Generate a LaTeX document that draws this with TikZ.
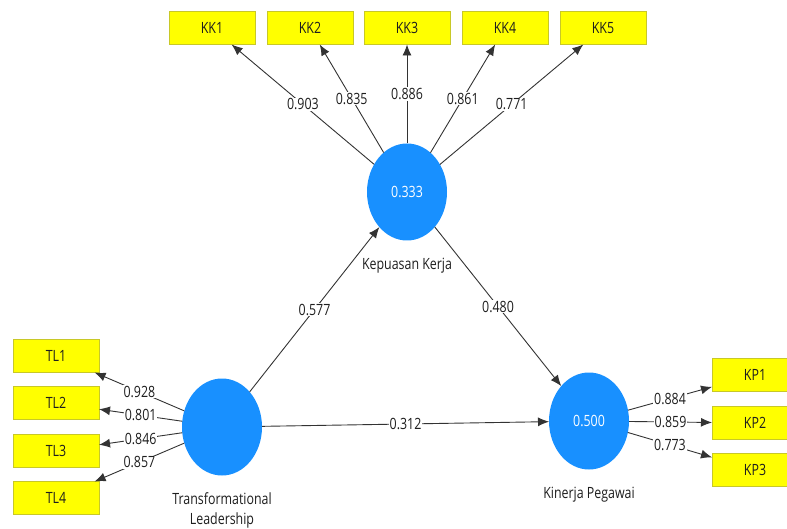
\documentclass[tikz,border=0pt]{standalone}
\usepackage{fontspec}
\setmainfont{Open Sans}[FakeStretch=0.8]
\usetikzlibrary{arrows.meta,positioning,shapes.geometric}
\definecolor{latentBlue}{RGB}{24,144,255}
\definecolor{itemYellow}{RGB}{255,255,0}
\definecolor{itemBorder}{RGB}{200,200,40}
\definecolor{textGrey}{RGB}{30,30,30}
\tikzset{
  latent/.style={ellipse, fill=latentBlue, minimum width=80pt, minimum height=97pt, inner sep=0pt, outer sep=0pt, text=white},
  indicator/.style={rectangle, draw=itemBorder, fill=itemYellow, minimum width=86pt, minimum height=33pt, inner sep=0pt, outer sep=0pt, text=textGrey},
  link/.style={draw=black!80, line width=0.9pt, -{Latex[length=11pt,width=9pt]}},
  coef/.style={fill=white, inner sep=1pt, text=textGrey},
  caption/.style={inner sep=0pt, text=textGrey, align=center}
}
\begin{document}
\begin{tikzpicture}[x=1pt, y=-1pt, font=\fontsize{15.5}{20}\selectfont]
    \useasboundingbox (0,0) rectangle (787,529);

    % latent variables
    \node[latent] (KK) at (407,192) {0.333};
    \node[latent] (TL) at (222,427) {};
    \node[latent] (KP) at (589,421) {0.500};

    \node[caption, below=17pt of KK] (KKname) {Kepuasan Kerja};
    \node[caption, below=17pt of TL] (TLname) {Transformational\\Leadership};
    \node[caption, below=17pt of KP] (KPname) {Kinerja Pegawai};

    % indicators
    \node[indicator] (KK1) at (212,28) {KK1};
    \node[indicator] (KK2) at (310,28) {KK2};
    \node[indicator] (KK3) at (407,28) {KK3};
    \node[indicator] (KK4) at (505,28) {KK4};
    \node[indicator] (KK5) at (603,28) {KK5};

    \node[indicator] (TL1) at (56,356) {TL1};
    \node[indicator] (TL2) at (56,403) {TL2};
    \node[indicator] (TL3) at (56,451) {TL3};
    \node[indicator] (TL4) at (56,498) {TL4};

    \node[indicator] (KP1) at (755,375) {KP1};
    \node[indicator] (KP2) at (755,423) {KP2};
    \node[indicator] (KP3) at (755,470) {KP3};

    % outer loadings
    \draw[link] (KK) -- node[coef] {0.903} (KK1);
    \draw[link] (KK) -- node[coef] {0.835} (KK2);
    \draw[link] (KK) -- node[coef] {0.886} (KK3);
    \draw[link] (KK) -- node[coef] {0.861} (KK4);
    \draw[link] (KK) -- node[coef] {0.771} (KK5);

    \draw[link] (TL) -- node[coef] {0.928} (TL1);
    \draw[link] (TL) -- node[coef] {0.801} (TL2);
    \draw[link] (TL) -- node[coef] {0.846} (TL3);
    \draw[link] (TL) -- node[coef] {0.857} (TL4);

    \draw[link] (KP) -- node[coef] {0.884} (KP1);
    \draw[link] (KP) -- node[coef] {0.859} (KP2);
    \draw[link] (KP) -- node[coef] {0.773} (KP3);

    % path coefficients
    \draw[link] (TL) -- node[coef] {0.577} (KK);
    \draw[link] (KK) -- node[coef] {0.480} (KP);
    \draw[link] (TL) -- node[coef] {0.312} (KP);
  \end{tikzpicture}
\end{document}
